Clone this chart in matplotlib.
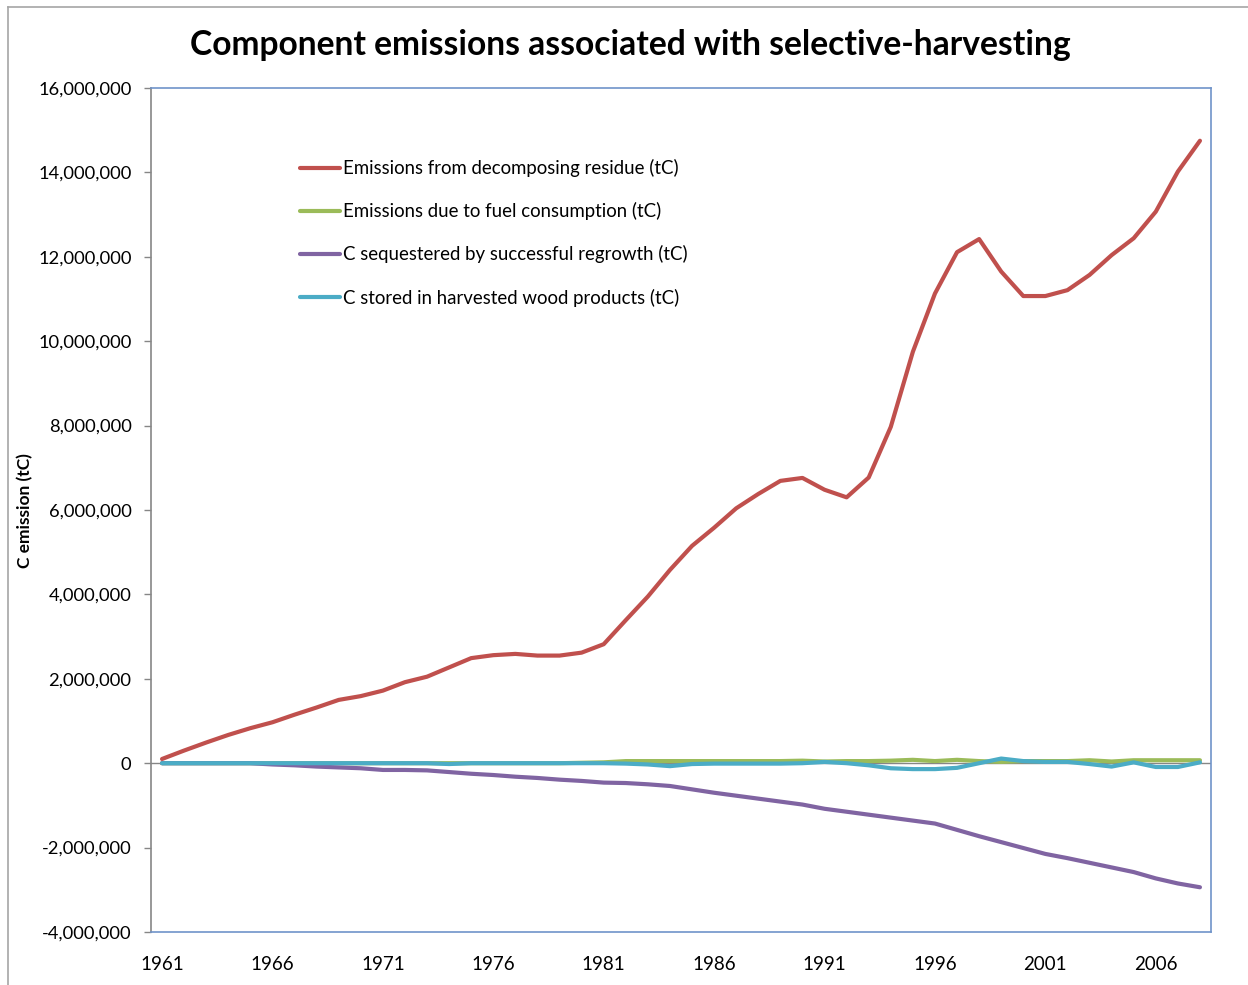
import numpy as np
import matplotlib
matplotlib.use("Agg")
import matplotlib.pyplot as plt
from matplotlib.lines import Line2D
from matplotlib.ticker import FuncFormatter, MultipleLocator

plt.rcParams['font.family'] = ['Lato', 'DejaVu Sans']

# ---- data (tC) ----
years = list(range(1961, 2009))

decomposing_residue = [
    100000, 300000, 490000, 670000, 830000, 970000, 1150000, 1320000, 1500000, 1590000,
    1720000, 1920000, 2050000, 2270000, 2490000, 2560000, 2590000, 2550000, 2550000, 2620000,
    2820000, 3390000, 3950000, 4580000, 5150000, 5580000, 6040000, 6380000, 6690000, 6760000,
    6480000, 6300000, 6770000, 7970000, 9750000, 11130000, 12110000, 12420000, 11650000, 11070000,
    11070000, 11210000, 11570000, 12040000, 12440000, 13070000, 14020000, 14750000,
]

fuel_consumption = [
    0, 0, 0, 0, 0, 0, 0, 0, 0, 0,
    0, 0, 0, 0, 0, 0, 0, 0, 0, 10000,
    20000, 50000, 50000, 50000, 50000, 50000, 50000, 50000, 50000, 60000,
    40000, 50000, 50000, 60000, 80000, 50000, 80000, 50000, 30000, 50000,
    50000, 50000, 70000, 40000, 70000, 70000, 70000, 70000,
]

regrowth_sequestered = [
    0, 0, 0, 0, 0, -30000, -50000, -80000, -100000, -120000,
    -160000, -160000, -170000, -210000, -250000, -280000, -320000, -350000, -390000, -420000,
    -460000, -470000, -500000, -540000, -620000, -700000, -770000, -840000, -910000, -980000,
    -1080000, -1150000, -1220000, -1290000, -1360000, -1430000, -1580000, -1730000, -1870000, -2010000,
    -2150000, -2250000, -2360000, -2470000, -2580000, -2730000, -2850000, -2940000,
]

wood_products = [
    0, 0, 0, 0, 0, 0, 0, 0, 0, 0,
    0, 0, 0, -20000, 0, 0, 0, 0, 0, 0,
    0, -10000, -30000, -70000, -20000, -10000, -10000, -10000, -10000, 0,
    30000, 0, -50000, -120000, -140000, -140000, -110000, 0, 110000, 50000,
    30000, 30000, -20000, -80000, 20000, -90000, -90000, 20000,
]

series_labels = [
    "Emissions from decomposing residue (tC)",
    "Emissions due to fuel consumption (tC)",
    "C sequestered by successful regrowth (tC)",
    "C stored in harvested wood products (tC)",
]
series_colors = ["#C0504D", "#9BBB59", "#8064A2", "#4BACC6"]

title = "Component emissions associated with selective-harvesting"
y_label = "C emission (tC)"
x_tick_years = list(range(1961, 2009, 5))

# ---- figure ----
W, H = 1248, 985
fig = plt.figure(figsize=(W / 100, H / 100), dpi=100)
fig.patch.set_facecolor("white")

# chart-area border (left and top edges)
border_c = "#A6A6A6"
fig.add_artist(Line2D([8 / W, 8 / W], [0, 1 - 7 / H], transform=fig.transFigure,
                      color=border_c, lw=1.2))
fig.add_artist(Line2D([8 / W, 1], [1 - 7 / H, 1 - 7 / H], transform=fig.transFigure,
                      color=border_c, lw=1.2))

left, right, top, bottom = 151, 1211, 88, 932
ax = fig.add_axes([left / W, 1 - bottom / H, (right - left) / W, (bottom - top) / H])

ax.axhline(0, color="#868686", lw=1.0, zorder=1)

series = [decomposing_residue, fuel_consumption, regrowth_sequestered, wood_products]
for vals, lab, col in zip(series, series_labels, series_colors):
    ax.plot(years, vals, color=col, lw=3.0, label=lab, solid_joinstyle="round",
            solid_capstyle="round", zorder=3)

ax.set_xlim(1960.5, 2008.5)
ax.set_ylim(-4_000_000, 16_000_000)
ax.yaxis.set_major_locator(MultipleLocator(2_000_000))
ax.yaxis.set_major_formatter(FuncFormatter(lambda v, p: f"{int(v):,}"))
ax.set_xticks(x_tick_years)
ax.set_xticklabels([str(y) for y in x_tick_years])

ax.tick_params(axis="y", direction="out", length=5, width=1, color="#868686",
               labelsize=13.2, pad=9, labelcolor="black")
ax.tick_params(axis="x", length=0, labelsize=13.5, pad=17, labelcolor="black")

frame_blue = "#6F93C9"
ax.spines["left"].set_color("#868686")
ax.spines["left"].set_linewidth(1.2)
for s in ("top", "right", "bottom"):
    ax.spines[s].set_color(frame_blue)
    ax.spines[s].set_linewidth(1.2)

leg = ax.legend(loc="upper left", bbox_to_anchor=((300 - left) / (right - left),
                                                   (bottom - 159) / (bottom - top)),
                frameon=False, fontsize=13.4, borderpad=0, borderaxespad=0,
                handlelength=2.15, handletextpad=0.15, labelspacing=1.35)

fig.text(630 / W, 1 - 45 / H, title, ha="center", va="center",
         fontsize=24.2, fontweight="bold")
fig.text(25 / W, 1 - 511 / H, y_label, ha="center", va="center", rotation=90,
         fontsize=12.5, fontweight="bold")

fig.savefig("out.png", dpi=100)
